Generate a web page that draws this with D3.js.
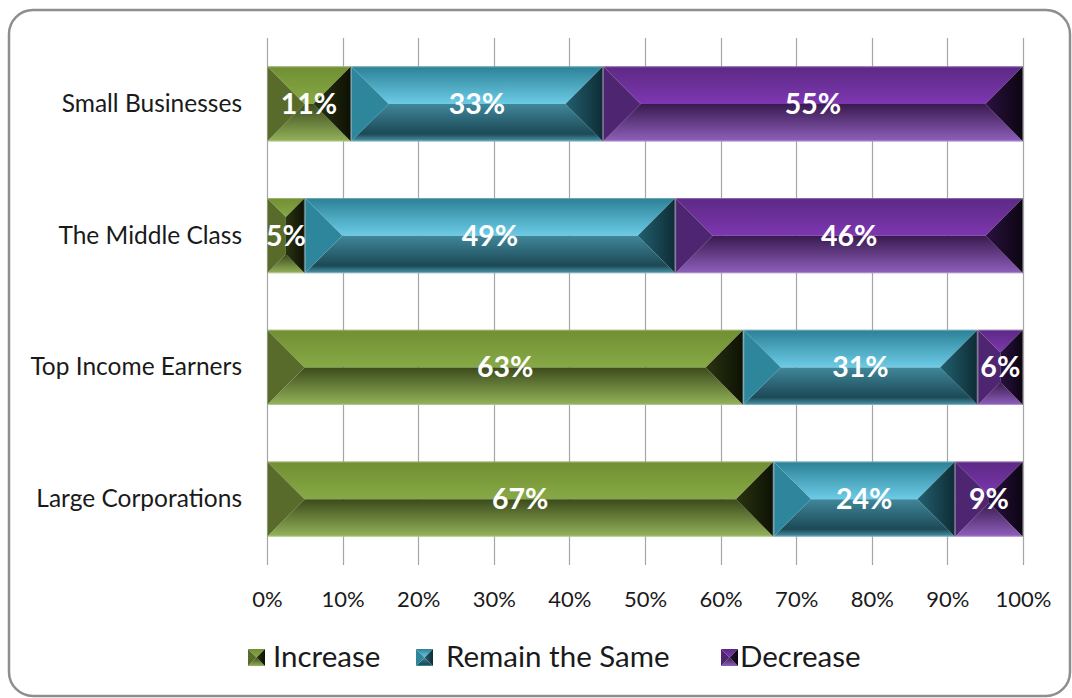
<!DOCTYPE html>
<html>
<head>
<meta charset="utf-8">
<script src="https://cdn.jsdelivr.net/npm/d3@7"></script>
<style>
  body { margin: 0; background: #fff; }
  text { font-family: Lato, "Open Sans", sans-serif; }
</style>
</head>
<body>
<script>
// chart values
var categories = ['Small Businesses', 'The Middle Class', 'Top Income Earners', 'Large Corporations'],
    seriesNames = ['Increase', 'Remain the Same', 'Decrease'],
    increase = [11, 5, 63, 67],
    remainSame = [33, 49, 31, 24],
    decrease = [55, 46, 6, 9],
    tickValues = [0, 0.1, 0.2, 0.3, 0.4, 0.5, 0.6, 0.7, 0.8, 0.9, 1];

var width = 1072,
    height = 698,
    plotLeft = 267,
    plotRight = 1023,
    plotTop = 38,
    plotBottom = 565;

// colours for the bevelled faces of each series
var palette = {
  'Increase':        { topA: '#718f33', topB: '#87a945', botA: '#3b4a1b', botB: '#94b35a', side: '#586b2b', darkA: '#2a3410', darkB: '#0d1104' },
  'Remain the Same': { topA: '#2b8196', topB: '#6ccbe6', botA: '#40879a', botB: '#1c4956', side: '#2d869c', darkA: '#22606f', darkB: '#0e2c35' },
  'Decrease':        { topA: '#5c2984', topB: '#7d37b1', botA: '#391a4f', botB: '#8f60bc', side: '#4e2570', darkA: '#2b1141', darkB: '#0b0411' }
};

var table = categories.map(function (c, i) {
  return { cat: c, 'Increase': increase[i], 'Remain the Same': remainSame[i], 'Decrease': decrease[i] };
});

var stack = d3.stack().keys(seriesNames).offset(d3.stackOffsetExpand);
var layers = stack(table);

var x = d3.scaleLinear().domain([0, 1]).range([plotLeft, plotRight]),
    y = d3.scaleBand().domain(categories).range([plotTop, plotBottom]).paddingInner(0.43).paddingOuter(0.215);

var svg = d3.select('body').append('svg')
    .attr('width', width)
    .attr('height', height);

var defs = svg.append('defs');
seriesNames.forEach(function (s, i) {
  var p = palette[s];
  function grad(id, a, b, horiz, mid) {
    var g = defs.append('linearGradient').attr('id', id)
        .attr('x1', 0).attr('y1', 0).attr('x2', horiz ? 1 : 0).attr('y2', horiz ? 0 : 1);
    g.append('stop').attr('offset', 0).attr('stop-color', a);
    if (mid) g.append('stop').attr('offset', mid[0]).attr('stop-color', mid[1]);
    g.append('stop').attr('offset', 1).attr('stop-color', b);
  }
  grad('top' + i, p.topA, p.topB, false);
  if (s === 'Remain the Same') {
    grad('bot' + i, p.botA, '#4c97aa', false, [0.8, p.botB]);
  } else {
    grad('bot' + i, p.botA, p.botB, false);
  }
  grad('dark' + i, p.darkA, p.darkB, true);
});

// frame
svg.append('rect')
    .attr('x', 9).attr('y', 10)
    .attr('width', 1061).attr('height', 686)
    .attr('rx', 24)
    .attr('fill', 'none')
    .attr('stroke', '#8e8e8e')
    .attr('stroke-width', 2.5);

// gridlines
svg.append('g').selectAll('line')
    .data(tickValues)
    .enter().append('line')
    .attr('x1', function (d) { return Math.round(x(d)) + 0.5; })
    .attr('x2', function (d) { return Math.round(x(d)) + 0.5; })
    .attr('y1', plotTop)
    .attr('y2', plotBottom)
    .attr('stroke', '#a6a6a6')
    .attr('stroke-width', 1.2);

// bevelled pyramid faces for a box
function faces(x0, y0, w, h) {
  var b = Math.min(w, h) / 2,
      x1 = x0 + w, y1 = y0 + h,
      ix0 = x0 + b, ix1 = x1 - b, iy0 = y0 + b, iy1 = y1 - b;
  return {
    top: [[x0, y0], [x1, y0], [ix1, iy0], [ix0, iy0]],
    bot: [[x0, y1], [x1, y1], [ix1, iy1], [ix0, iy1]],
    left: [[x0, y0], [ix0, iy0], [ix0, iy1], [x0, y1]],
    right: [[x1, y0], [ix1, iy0], [ix1, iy1], [x1, y1]]
  };
}
function pts(a) { return a.map(function (p) { return p.join(','); }).join(' '); }

function drawBox(g, x0, y0, w, h, i, edge) {
  var f = faces(x0, y0, w, h), p = palette[seriesNames[i]];
  g.append('polygon').attr('points', pts(f.top)).attr('fill', 'url(#top' + i + ')');
  g.append('polygon').attr('points', pts(f.bot)).attr('fill', 'url(#bot' + i + ')');
  g.append('polygon').attr('points', pts(f.left)).attr('fill', p.side);
  g.append('polygon').attr('points', pts(f.right)).attr('fill', 'url(#dark' + i + ')');
  if (edge) {
    g.append('rect')
        .attr('x', x0 + 0.5).attr('y', y0 + 0.5)
        .attr('width', w - 1).attr('height', h - 1)
        .attr('fill', 'none')
        .attr('stroke', '#ffffff')
        .attr('stroke-opacity', 0.3);
  }
}

var bars = svg.append('g');
layers.forEach(function (layer, i) {
  layer.forEach(function (d) {
    var x0 = x(d[0]), w = x(d[1]) - x(d[0]);
    var g = bars.append('g');
    drawBox(g, x0, y(d.data.cat), w, y.bandwidth(), i, true);
  });
});

// data labels
layers.forEach(function (layer, i) {
  svg.append('g').selectAll('text')
      .data(layer)
      .enter().append('text')
      .attr('x', function (d) { return (x(d[0]) + x(d[1])) / 2; })
      .attr('y', function (d) { return y(d.data.cat) + y.bandwidth() / 2 + 10; })
      .attr('text-anchor', 'middle')
      .attr('fill', '#ffffff')
      .attr('font-weight', 'bold')
      .attr('font-size', 28.5)
      .text(function (d) { return d.data[layer.key] + '%'; });
});

// category axis labels
svg.append('g').selectAll('text')
    .data(categories)
    .enter().append('text')
    .attr('x', 242)
    .attr('y', function (d) { return y(d) + y.bandwidth() / 2 + 8; })
    .attr('text-anchor', 'end')
    .attr('font-size', 24.5)
    .attr('fill', '#1a1a1a')
    .text(function (d) { return d; });

// percentage axis
var xAxis = d3.axisBottom(x).tickValues(tickValues).tickFormat(d3.format('.0%')).tickSize(0).tickPadding(0);
var ax = svg.append('g').attr('transform', 'translate(0,' + 607 + ')').call(xAxis);
ax.select('.domain').remove();
ax.selectAll('text')
    .attr('dy', 0)
    .attr('font-size', 22)
    .attr('fill', '#1a1a1a')
    .style('font-family', 'Lato, sans-serif');

// legend
var legendX = [248, 416, 721],
    legendTextX = [273, 446, 740];
var legend = svg.append('g');
seriesNames.forEach(function (s, i) {
  var g = legend.append('g');
  drawBox(g, legendX[i], 649, 17, 17, i, false);
  g.append('text')
      .attr('x', legendTextX[i])
      .attr('y', 667)
      .attr('font-size', 29.5)
      .attr('fill', '#1a1a1a')
      .text(s);
});
</script>
</body>
</html>
